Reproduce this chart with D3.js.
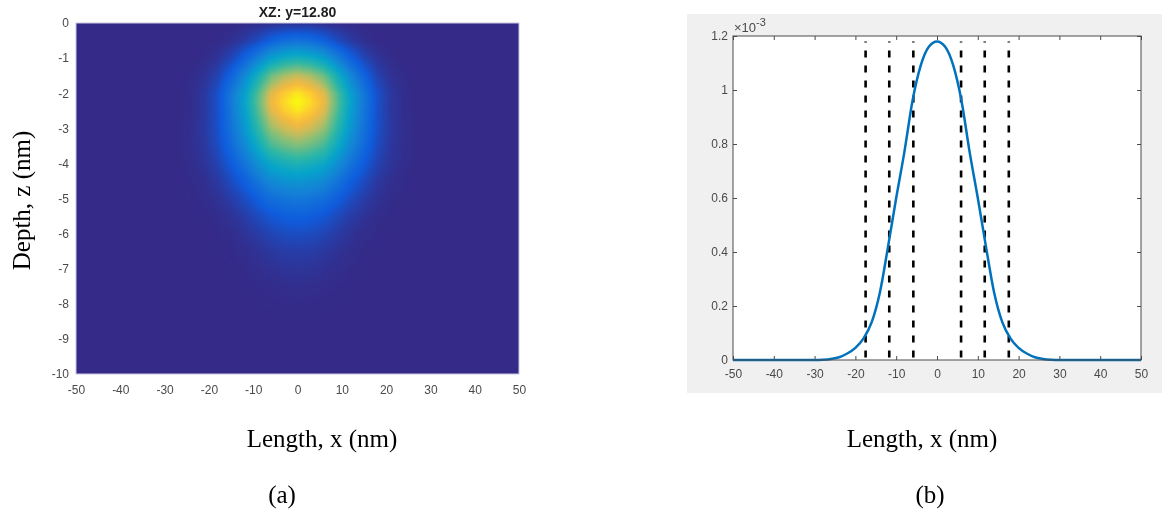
<!DOCTYPE html>
<html>
<head>
<meta charset="utf-8">
<script src="https://cdn.jsdelivr.net/npm/d3@7"></script>
<style>
  html, body { margin: 0; padding: 0; background: #ffffff; }
  #wrap { position: relative; width: 1164px; height: 513px; overflow: hidden; background: #ffffff; }
  #heat { position: absolute; overflow: hidden; }
  #heat canvas { position: absolute; filter: blur(1.3px); }
  #wrap svg { position: absolute; left: 0; top: 0; }
</style>
</head>
<body>
<div id="wrap"></div>
<script>
// ---------------- (a) XZ slice of the field ----------------
// depth rows (nm) and lateral distance |x| (nm); field is mirror-symmetric about x = 0
const depthRows   = [0, -0.5, -1, -1.5, -2, -2.25, -2.5, -3, -3.5, -4, -4.5, -5, -5.5, -6, -6.5, -7, -7.5, -8, -8.5];
const lateralCols = [0, 3, 6, 9, 12, 15, 18, 21, 24, 27];
// normalised intensity, one row per depth, one column per |x|
const fieldRows = [
  [0.020, 0.018, 0.011, 0.005, 0.001, 0.000, 0.000, 0.000, 0.000, 0],
  [0.220, 0.202, 0.157, 0.092, 0.045, 0.014, 0.002, 0.000, 0.000, 0],
  [0.500, 0.469, 0.400, 0.275, 0.163, 0.077, 0.027, 0.006, 0.000, 0],
  [0.800, 0.756, 0.670, 0.485, 0.307, 0.170, 0.070, 0.023, 0.005, 0],
  [0.970, 0.922, 0.834, 0.621, 0.407, 0.243, 0.107, 0.039, 0.010, 0],
  [1.000, 0.950, 0.860, 0.640, 0.420, 0.250, 0.110, 0.040, 0.010, 0],
  [0.970, 0.922, 0.834, 0.621, 0.407, 0.243, 0.107, 0.039, 0.010, 0],
  [0.850, 0.808, 0.734, 0.555, 0.372, 0.226, 0.107, 0.043, 0.013, 0.002],
  [0.700, 0.666, 0.606, 0.461, 0.312, 0.193, 0.094, 0.038, 0.012, 0.002],
  [0.520, 0.495, 0.450, 0.343, 0.232, 0.143, 0.070, 0.028, 0.009, 0.002],
  [0.370, 0.352, 0.318, 0.237, 0.155, 0.093, 0.041, 0.015, 0.004, 0],
  [0.250, 0.236, 0.209, 0.152, 0.096, 0.053, 0.022, 0.007, 0.002, 0],
  [0.160, 0.150, 0.128, 0.088, 0.052, 0.025, 0.008, 0.002, 0.000, 0],
  [0.100, 0.093, 0.075, 0.048, 0.025, 0.009, 0.003, 0.000, 0.000, 0],
  [0.055, 0.051, 0.039, 0.023, 0.011, 0.003, 0.001, 0.000, 0.000, 0],
  [0.030, 0.027, 0.020, 0.011, 0.004, 0.001, 0.000, 0.000, 0.000, 0],
  [0.012, 0.011, 0.007, 0.004, 0.001, 0.000, 0.000, 0.000, 0.000, 0],
  [0.004, 0.004, 0.002, 0.001, 0.000, 0.000, 0.000, 0.000, 0.000, 0],
  [0.000, 0.000, 0.000, 0.000, 0.000, 0.000, 0.000, 0.000, 0.000, 0]
];
const heatXTicks = [-50, -40, -30, -20, -10, 0, 10, 20, 30, 40, 50];
const heatZTicks = [0, -1, -2, -3, -4, -5, -6, -7, -8, -9, -10];
const heatTitle  = "XZ: y=12.80";

// parula colour map stops
const parulaStops  = [0, 0.143, 0.286, 0.429, 0.571, 0.714, 0.80, 0.87, 0.93, 1];
const parulaColors = ["#352a87", "#0f5cdd", "#1481d6", "#06a4ca", "#2eb7a4", "#87bf77",
                      "#c9bc5a", "#f3b940", "#fcce2e", "#f9fb0e"];

// ---------------- (b) lateral profile ----------------
const profileX = [-50, -30, -28, -26, -24, -22, -20, -18, -16, -14, -12, -10, -8, -6, -4, -2, 0,
                  2, 4, 6, 8, 10, 12, 14, 16, 18, 20, 22, 24, 26, 28, 30, 50];
const profileY = [0, 0, 0.001, 0.004, 0.010, 0.024, 0.045, 0.080, 0.140, 0.250, 0.420, 0.600, 0.770, 0.960, 1.090, 1.160, 1.180,
                  1.160, 1.090, 0.960, 0.770, 0.600, 0.420, 0.250, 0.140, 0.080, 0.045, 0.024, 0.010, 0.004, 0.001, 0, 0];
const cutX   = [-17.5, -11.7, -5.8, 5.9, 11.7, 17.6];
const cutTop = 1.18;
const profXTicks = [-50, -40, -30, -20, -10, 0, 10, 20, 30, 40, 50];
const profYTicks = [0, 0.2, 0.4, 0.6, 0.8, 1, 1.2];

const xLabel = "Length, x (nm)";
const zLabel = "Depth, z (nm)";

// ---------------- layout ----------------
const W = 1164, H = 513;
const hm = { left: 76, top: 23, w: 443, h: 351 };
const pr = { left: 733, top: 36, w: 408, h: 324 };
const tickFont = "'Liberation Sans', Arial, Helvetica, sans-serif";
const serif = "'Liberation Serif', 'Times New Roman', serif";
const tickColor = "#4a4a4a";
const plainNum = d => String(d);   // hyphen-minus, as in the original plot

const wrap = d3.select("#wrap");

// ---- heatmap canvas ----
const hx = d3.scaleLinear().domain([-50, 50]).range([hm.left, hm.left + hm.w]);
const hz = d3.scaleLinear().domain([0, -10]).range([hm.top, hm.top + hm.h]);
const parula = d3.scaleLinear().domain(parulaStops).range(parulaColors)
  .interpolate(d3.interpolateRgb).clamp(true);

function sampleField(ax, z) {
  const nr = depthRows.length, nc = lateralCols.length;
  if (z > 0) z = 0;
  if (z <= depthRows[nr - 1] || ax >= lateralCols[nc - 1]) return 0;
  let r = 0; while (r + 2 < nr && depthRows[r + 1] > z) r++;
  let c = 0; while (c + 2 < nc && lateralCols[c + 1] < ax) c++;
  const tz = (depthRows[r] - z) / (depthRows[r] - depthRows[r + 1]);
  const tx = (ax - lateralCols[c]) / (lateralCols[c + 1] - lateralCols[c]);
  const a = fieldRows[r][c] * (1 - tx) + fieldRows[r][c + 1] * tx;
  const b = fieldRows[r + 1][c] * (1 - tx) + fieldRows[r + 1][c + 1] * tx;
  return a * (1 - tz) + b * tz;
}

const pad = 8;
const heatDiv = wrap.append("div").attr("id", "heat")
  .style("left", hm.left + "px").style("top", hm.top + "px")
  .style("width", hm.w + "px").style("height", hm.h + "px");
const cw = hm.w + 2 * pad, ch = hm.h + 2 * pad;
const canvas = heatDiv.append("canvas").attr("width", cw).attr("height", ch)
  .style("left", -pad + "px").style("top", -pad + "px");
const ctx = canvas.node().getContext("2d");
const img = ctx.createImageData(cw, ch);
for (let j = 0; j < ch; j++) {
  const z = hz.invert(hm.top - pad + j + 0.5);
  for (let i = 0; i < cw; i++) {
    const x = hx.invert(hm.left - pad + i + 0.5);
    const c = d3.rgb(parula(sampleField(Math.abs(x), z)));
    const k = (j * cw + i) * 4;
    img.data[k] = c.r; img.data[k + 1] = c.g; img.data[k + 2] = c.b; img.data[k + 3] = 255;
  }
}
ctx.putImageData(img, 0, 0);

// ---- svg overlay ----
const svg = wrap.append("svg").attr("width", W).attr("height", H);

// (a) frame, title and axes
svg.append("rect")
  .attr("x", hm.left).attr("y", hm.top).attr("width", hm.w).attr("height", hm.h)
  .attr("fill", "none").attr("stroke", "#c9c6e2").attr("stroke-width", 1);

svg.append("text").attr("x", hx(0)).attr("y", 17).attr("text-anchor", "middle")
  .attr("font-family", tickFont).attr("font-weight", "bold").attr("font-size", 14)
  .attr("fill", "#1e1e1e").text(heatTitle);

const hxAxis = svg.append("g").attr("transform", `translate(0,${hm.top + hm.h})`)
  .call(d3.axisBottom(hx).tickValues(heatXTicks).tickFormat(plainNum).tickSize(0).tickPadding(11));
const hzAxis = svg.append("g").attr("transform", `translate(${hm.left},0)`)
  .call(d3.axisLeft(hz).tickValues(heatZTicks).tickFormat(plainNum).tickSize(0).tickPadding(7));
[hxAxis, hzAxis].forEach(g => {
  g.select(".domain").remove();
  g.selectAll("text").attr("font-family", tickFont).attr("font-size", 12).attr("fill", tickColor);
});

svg.append("text")
  .attr("transform", `translate(30,${hz(-5) + 2}) rotate(-90)`)
  .attr("text-anchor", "middle").attr("font-family", serif).attr("font-size", 25)
  .attr("fill", "#000").text(zLabel);

// (b) panel background and plot box
svg.append("rect").attr("x", 687).attr("y", 14).attr("width", 475).attr("height", 379)
  .attr("fill", "#f0f0f0");
svg.append("rect").attr("x", pr.left).attr("y", pr.top).attr("width", pr.w).attr("height", pr.h)
  .attr("fill", "#ffffff");

const px = d3.scaleLinear().domain([-50, 50]).range([pr.left, pr.left + pr.w]);
const py = d3.scaleLinear().domain([0, 1.2]).range([pr.top + pr.h, pr.top]);

const gB = svg.append("g").attr("transform", `translate(0,${pr.top + pr.h})`)
  .call(d3.axisBottom(px).tickValues(profXTicks).tickFormat(plainNum)
    .tickSizeInner(-4).tickSizeOuter(0).tickPadding(9));
const gT = svg.append("g").attr("transform", `translate(0,${pr.top})`)
  .call(d3.axisTop(px).tickValues(profXTicks).tickSizeInner(-4).tickSizeOuter(0).tickFormat(""));
const gL = svg.append("g").attr("transform", `translate(${pr.left},0)`)
  .call(d3.axisLeft(py).tickValues(profYTicks).tickFormat(plainNum)
    .tickSizeInner(-4).tickSizeOuter(0).tickPadding(5));
const gR = svg.append("g").attr("transform", `translate(${pr.left + pr.w},0)`)
  .call(d3.axisRight(py).tickValues(profYTicks).tickSizeInner(-4).tickSizeOuter(0).tickFormat(""));
[gB, gT, gL, gR].forEach(g => {
  g.select(".domain").remove();
  g.selectAll("line").attr("stroke", "#4a4a4a");
  g.selectAll("text").attr("font-family", tickFont).attr("font-size", 12).attr("fill", tickColor);
});

// dashed cut positions
svg.append("g").selectAll("line").data(cutX).join("line")
  .attr("x1", d => px(d)).attr("x2", d => px(d))
  .attr("y1", py(cutTop)).attr("y2", py(0))
  .attr("stroke", "#000").attr("stroke-width", 2.6)
  .attr("stroke-dasharray", "7,8").attr("stroke-dashoffset", 6);

// profile curve
const line = d3.line().x((d, i) => px(profileX[i])).y(d => py(d)).curve(d3.curveMonotoneX);
svg.append("path").datum(profileY).attr("d", line)
  .attr("fill", "none").attr("stroke", "#0072bd").attr("stroke-width", 2.5);

// plot box
svg.append("rect").attr("x", pr.left).attr("y", pr.top).attr("width", pr.w).attr("height", pr.h)
  .attr("fill", "none").attr("stroke", "#4a4a4a").attr("stroke-width", 1);

// exponent marker
const expText = svg.append("text").attr("x", pr.left + 1).attr("y", 32)
  .attr("font-family", tickFont).attr("font-size", 13).attr("fill", tickColor);
expText.append("tspan").text("\u00d710");
expText.append("tspan").attr("dy", -6).attr("font-size", 11).text("-3");

// shared captions
svg.append("text").attr("x", 322).attr("y", 447).attr("text-anchor", "middle")
  .attr("font-family", serif).attr("font-size", 25).attr("fill", "#000").text(xLabel);
svg.append("text").attr("x", 922).attr("y", 447).attr("text-anchor", "middle")
  .attr("font-family", serif).attr("font-size", 25).attr("fill", "#000").text(xLabel);
svg.append("text").attr("x", 282).attr("y", 503).attr("text-anchor", "middle")
  .attr("font-family", serif).attr("font-size", 25).attr("fill", "#000").text("(a)");
svg.append("text").attr("x", 930).attr("y", 503).attr("text-anchor", "middle")
  .attr("font-family", serif).attr("font-size", 25).attr("fill", "#000").text("(b)");
</script>
</body>
</html>
